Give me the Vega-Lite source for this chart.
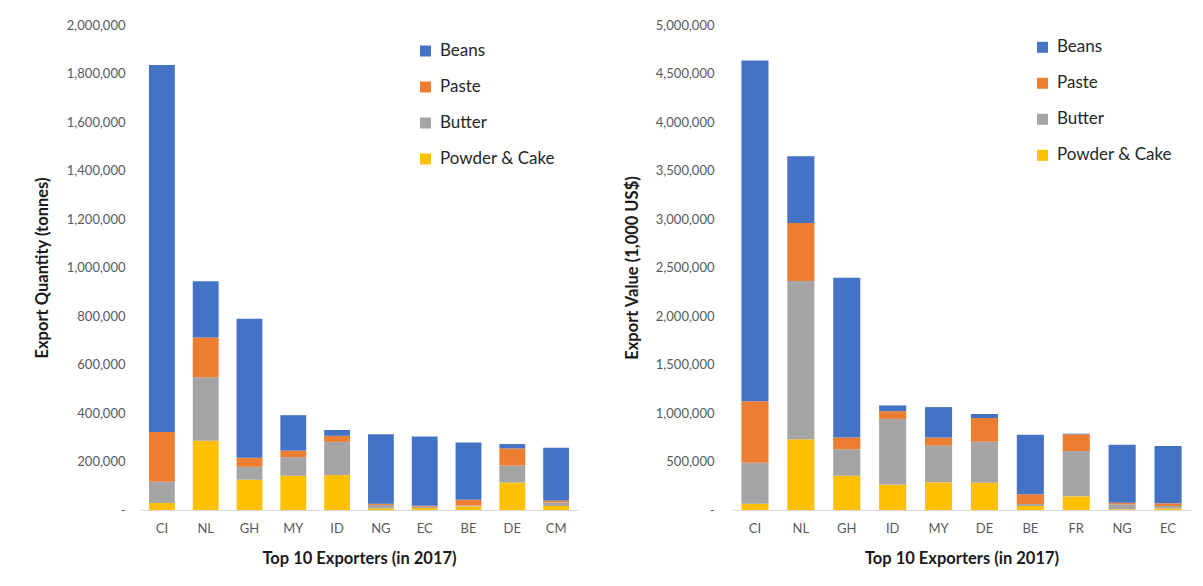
{
  "$schema": "https://vega.github.io/schema/vega-lite/v6.json",
  "padding": {"left": 34, "top": 19, "right": 0, "bottom": 0},
  "background": "white",
  "config": {
    "font": "Lato",
    "view": {"stroke": null},
    "concat": {"spacing": 46},
    "axis": {"labelColor": "#595959", "labelFontSize": 13, "labelFont": "Lato", "titleFont": "Lato", "titleColor": "#1a1a1a", "titleFontSize": 16.5, "titleFontWeight": "bold", "ticks": false, "grid": false},
    "legend": {"labelFont": "Lato", "labelFontSize": 17, "labelColor": "#262626", "symbolType": "square", "symbolSize": 121, "symbolStrokeWidth": 0, "labelOffset": 6, "rowPadding": 18, "padding": 0, "title": null}
  },
  "resolve": {"scale": {"color": "independent"}},
  "datasets": {
    "parts": [
      {"part": "Powder & Cake", "rank": 1}, {"part": "Butter", "rank": 2}, {"part": "Paste", "rank": 3}, {"part": "Beans", "rank": 4}
    ],
    "qty": [
      {"country": "CI", "part": "Powder & Cake", "value": 29000}, {"country": "CI", "part": "Butter", "value": 87000}, {"country": "CI", "part": "Paste", "value": 206000}, {"country": "CI", "part": "Beans", "value": 1513000},
      {"country": "NL", "part": "Powder & Cake", "value": 286000}, {"country": "NL", "part": "Butter", "value": 261000}, {"country": "NL", "part": "Paste", "value": 164000}, {"country": "NL", "part": "Beans", "value": 232000},
      {"country": "GH", "part": "Powder & Cake", "value": 125000}, {"country": "GH", "part": "Butter", "value": 53000}, {"country": "GH", "part": "Paste", "value": 37000}, {"country": "GH", "part": "Beans", "value": 574000},
      {"country": "MY", "part": "Powder & Cake", "value": 141000}, {"country": "MY", "part": "Butter", "value": 77000}, {"country": "MY", "part": "Paste", "value": 27000}, {"country": "MY", "part": "Beans", "value": 146000},
      {"country": "ID", "part": "Powder & Cake", "value": 144000}, {"country": "ID", "part": "Butter", "value": 137000}, {"country": "ID", "part": "Paste", "value": 25000}, {"country": "ID", "part": "Beans", "value": 24000},
      {"country": "NG", "part": "Powder & Cake", "value": 7000}, {"country": "NG", "part": "Butter", "value": 14000}, {"country": "NG", "part": "Paste", "value": 5000}, {"country": "NG", "part": "Beans", "value": 286000},
      {"country": "EC", "part": "Powder & Cake", "value": 8000}, {"country": "EC", "part": "Butter", "value": 5500}, {"country": "EC", "part": "Paste", "value": 4000}, {"country": "EC", "part": "Beans", "value": 286000},
      {"country": "BE", "part": "Powder & Cake", "value": 15000}, {"country": "BE", "part": "Butter", "value": 4000}, {"country": "BE", "part": "Paste", "value": 23000}, {"country": "BE", "part": "Beans", "value": 236000},
      {"country": "DE", "part": "Powder & Cake", "value": 113000}, {"country": "DE", "part": "Butter", "value": 70000}, {"country": "DE", "part": "Paste", "value": 71000}, {"country": "DE", "part": "Beans", "value": 18000},
      {"country": "CM", "part": "Powder & Cake", "value": 16500}, {"country": "CM", "part": "Butter", "value": 15000}, {"country": "CM", "part": "Paste", "value": 8000}, {"country": "CM", "part": "Beans", "value": 217000}
    ],
    "val": [
      {"country": "CI", "part": "Powder & Cake", "value": 65000}, {"country": "CI", "part": "Butter", "value": 421000}, {"country": "CI", "part": "Paste", "value": 634000}, {"country": "CI", "part": "Beans", "value": 3514000},
      {"country": "NL", "part": "Powder & Cake", "value": 730000}, {"country": "NL", "part": "Butter", "value": 1630000}, {"country": "NL", "part": "Paste", "value": 599000}, {"country": "NL", "part": "Beans", "value": 689000},
      {"country": "GH", "part": "Powder & Cake", "value": 354000}, {"country": "GH", "part": "Butter", "value": 272000}, {"country": "GH", "part": "Paste", "value": 121000}, {"country": "GH", "part": "Beans", "value": 1648000},
      {"country": "ID", "part": "Powder & Cake", "value": 260000}, {"country": "ID", "part": "Butter", "value": 679000}, {"country": "ID", "part": "Paste", "value": 80000}, {"country": "ID", "part": "Beans", "value": 59000},
      {"country": "MY", "part": "Powder & Cake", "value": 285000}, {"country": "MY", "part": "Butter", "value": 379000}, {"country": "MY", "part": "Paste", "value": 83000}, {"country": "MY", "part": "Beans", "value": 314000},
      {"country": "DE", "part": "Powder & Cake", "value": 281000}, {"country": "DE", "part": "Butter", "value": 423000}, {"country": "DE", "part": "Paste", "value": 244000}, {"country": "DE", "part": "Beans", "value": 42000},
      {"country": "BE", "part": "Powder & Cake", "value": 41000}, {"country": "BE", "part": "Butter", "value": 21000}, {"country": "BE", "part": "Paste", "value": 100000}, {"country": "BE", "part": "Beans", "value": 614000},
      {"country": "FR", "part": "Powder & Cake", "value": 141000}, {"country": "FR", "part": "Butter", "value": 467000}, {"country": "FR", "part": "Paste", "value": 172000}, {"country": "FR", "part": "Beans", "value": 7000},
      {"country": "NG", "part": "Powder & Cake", "value": 8000}, {"country": "NG", "part": "Butter", "value": 50000}, {"country": "NG", "part": "Paste", "value": 17000}, {"country": "NG", "part": "Beans", "value": 598000},
      {"country": "EC", "part": "Powder & Cake", "value": 17000}, {"country": "EC", "part": "Butter", "value": 24000}, {"country": "EC", "part": "Paste", "value": 28000}, {"country": "EC", "part": "Beans", "value": 591000}
    ]
  },
  "hconcat": [
    {
      "width": 438,
      "height": 485,
      "data": {"name": "qty"},
      "transform": [{"lookup": "part", "from": {"data": {"name": "parts"}, "key": "part", "fields": ["rank"]}}],
      "mark": {"type": "bar"},
      "encoding": {
        "x": {"field": "country", "type": "nominal", "sort": ["CI", "NL", "GH", "MY", "ID", "NG", "EC", "BE", "DE", "CM"],
          "scale": {"paddingInner": 0.41, "paddingOuter": 0.205},
          "axis": {"title": "Top 10 Exporters (in 2017)", "labelAngle": 0, "labelPadding": 12, "titlePadding": 15, "domainColor": "#d9d9d9", "domainWidth": 1}},
        "y": {"field": "value", "type": "quantitative", "stack": "zero",
          "scale": {"domain": [0, 2000000], "nice": false},
          "axis": {"title": "Export Quantity (tonnes)", "values": [0, 200000, 400000, 600000, 800000, 1000000, 1200000, 1400000, 1600000, 1800000, 2000000],
            "labelExpr": "datum.value === 0 ? '-\u00a0\u00a0' : format(datum.value, ',')", "domain": false, "labelPadding": 15, "minExtent": 75, "maxExtent": 75, "titlePadding": 15}},
        "order": {"field": "rank", "type": "quantitative", "sort": "ascending"},
        "color": {"field": "part", "type": "nominal", "sort": ["Beans", "Paste", "Butter", "Powder & Cake"],
          "scale": {"domain": ["Beans", "Paste", "Butter", "Powder & Cake"], "range": ["#4472C4", "#ED7D31", "#A5A5A5", "#FFC000"]},
          "legend": {"orient": "none", "legendX": 277, "legendY": 17.5}}
      }
    },
    {
      "width": 459,
      "height": 485,
      "data": {"name": "val"},
      "transform": [{"lookup": "part", "from": {"data": {"name": "parts"}, "key": "part", "fields": ["rank"]}}],
      "mark": {"type": "bar"},
      "encoding": {
        "x": {"field": "country", "type": "nominal", "sort": ["CI", "NL", "GH", "ID", "MY", "DE", "BE", "FR", "NG", "EC"],
          "scale": {"paddingInner": 0.41, "paddingOuter": 0.205},
          "axis": {"title": "Top 10 Exporters (in 2017)", "labelAngle": 0, "labelPadding": 12, "titlePadding": 15, "domainColor": "#d9d9d9", "domainWidth": 1}},
        "y": {"field": "value", "type": "quantitative", "stack": "zero",
          "scale": {"domain": [0, 5000000], "nice": false},
          "axis": {"title": "Export Value (1,000 US$)", "values": [0, 500000, 1000000, 1500000, 2000000, 2500000, 3000000, 3500000, 4000000, 4500000, 5000000],
            "labelExpr": "datum.value === 0 ? '-\u00a0\u00a0' : format(datum.value, ',')", "domain": false, "labelPadding": 18, "minExtent": 78, "maxExtent": 78, "titlePadding": 14}},
        "order": {"field": "rank", "type": "quantitative", "sort": "ascending"},
        "color": {"field": "part", "type": "nominal", "sort": ["Beans", "Paste", "Butter", "Powder & Cake"],
          "scale": {"domain": ["Beans", "Paste", "Butter", "Powder & Cake"], "range": ["#4472C4", "#ED7D31", "#A5A5A5", "#FFC000"]},
          "legend": {"orient": "none", "legendX": 302, "legendY": 13.8}}
      }
    }
  ]
}
